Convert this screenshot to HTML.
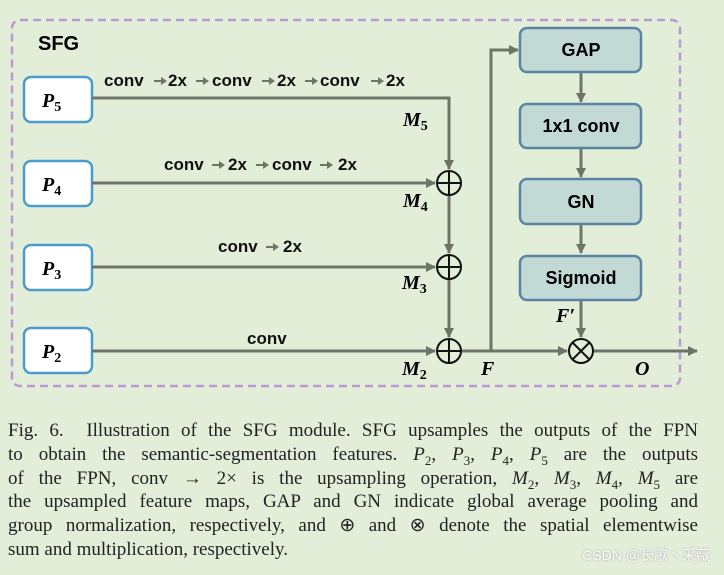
<!DOCTYPE html>
<html><head><style>
body{margin:0;width:724px;height:575px;background:#e3eed9;overflow:hidden;position:relative}
svg{position:absolute;left:0;top:0}
.cap{position:absolute;left:8px;top:419px;width:690px;font-family:"Liberation Serif",serif;font-size:19px;line-height:23.8px;color:#222}
.cap div{text-align:justify;text-align-last:justify;white-space:nowrap;overflow:visible}
.cap div.l{text-align-last:left}
sub{font-size:13px;line-height:0}
.wm{position:absolute;right:14px;top:545px;font-family:"Liberation Sans","Noto Sans CJK SC",sans-serif;font-size:14px;color:#fff;text-shadow:0 0 2px #999}
</style></head><body>
<svg width="724" height="575" font-family="Liberation Sans, sans-serif">
<defs><marker id="a" markerWidth="10" markerHeight="10" refX="9" refY="5" orient="auto" markerUnits="userSpaceOnUse"><path d="M0,0L10,5L0,10z" fill="#6e7568"/></marker></defs>
<rect x="12" y="20" width="668" height="366" rx="8" fill="none" stroke="#b99bd2" stroke-width="2.5" stroke-dasharray="8,5"/>
<text x="38" y="50" font-size="20" font-weight="bold">SFG</text>
<g fill="#fff" stroke="#4b9bcf" stroke-width="2.5">
<rect x="24" y="77" width="68" height="45" rx="7"/><rect x="24" y="161" width="68" height="45" rx="7"/>
<rect x="24" y="245" width="68" height="45" rx="7"/><rect x="24" y="328" width="68" height="45" rx="7"/></g>
<g font-family="Liberation Serif,serif" font-style="italic" font-weight="bold" font-size="20">
<text x="42" y="107">P<tspan font-size="14" dy="4" font-style="normal">5</tspan></text>
<text x="42" y="191">P<tspan font-size="14" dy="4" font-style="normal">4</tspan></text>
<text x="42" y="275">P<tspan font-size="14" dy="4" font-style="normal">3</tspan></text>
<text x="42" y="358">P<tspan font-size="14" dy="4" font-style="normal">2</tspan></text>
<text x="403" y="126">M<tspan font-size="14" dy="4" font-style="normal">5</tspan></text>
<text x="403" y="207">M<tspan font-size="14" dy="4" font-style="normal">4</tspan></text>
<text x="402" y="289">M<tspan font-size="14" dy="4" font-style="normal">3</tspan></text>
<text x="402" y="375">M<tspan font-size="14" dy="4" font-style="normal">2</tspan></text>
<text x="481" y="375">F</text><text x="635" y="375">O</text>
<text x="556" y="322">F′</text></g>
<g stroke="#6e7568" stroke-width="3" fill="none">
<path d="M92,98H449V169" marker-end="url(#a)"/>
<path d="M92,183H435" marker-end="url(#a)"/>
<path d="M92,267H435" marker-end="url(#a)"/>
<path d="M92,351H435" marker-end="url(#a)"/>
<path d="M449,195V253" marker-end="url(#a)"/>
<path d="M449,279V337" marker-end="url(#a)"/>
<path d="M461,351H567" marker-end="url(#a)"/>
<path d="M491,351V50H518" marker-end="url(#a)"/>
<path d="M593,351H697" marker-end="url(#a)"/>
<path d="M581,72V102" marker-end="url(#a)"/>
<path d="M581,148V177" marker-end="url(#a)"/>
<path d="M581,224V253" marker-end="url(#a)"/>
<path d="M581,300V337" marker-end="url(#a)"/>
</g>
<g stroke="#111" stroke-width="2" fill="none">
<circle cx="449" cy="183" r="12"/><path d="M437,183H461M449,171V195"/>
<circle cx="449" cy="267" r="12"/><path d="M437,267H461M449,255V279"/>
<circle cx="449" cy="351" r="12"/><path d="M437,351H461M449,339V363"/>
<circle cx="581" cy="351" r="12"/><path d="M573,343L589,359M589,343L573,359"/>
</g>
<g fill="#c2d9d6" stroke="#5a85a2" stroke-width="2.5">
<rect x="520" y="28" width="121" height="44" rx="7"/><rect x="520" y="104" width="121" height="44" rx="7"/>
<rect x="520" y="179" width="121" height="45" rx="7"/><rect x="520" y="256" width="121" height="44" rx="7"/></g>
<g font-size="18" font-weight="bold" text-anchor="middle">
<text x="581" y="56">GAP</text><text x="581" y="132">1x1 conv</text>
<text x="581" y="208">GN</text><text x="581" y="284">Sigmoid</text></g>
<g font-size="17" font-weight="bold" fill="#111">
<text x="104" y="86">conv</text><text x="168" y="86">2x</text><text x="212" y="86">conv</text><text x="277" y="86">2x</text><text x="320" y="86">conv</text><text x="386" y="86">2x</text>
<text x="164" y="170">conv</text><text x="228" y="170">2x</text><text x="272" y="170">conv</text><text x="338" y="170">2x</text>
<text x="218" y="252">conv</text><text x="283" y="252">2x</text>
<text x="247" y="344">conv</text></g>
<g fill="#6e7568">
<path d="M154,80h7v-3l6,4l-6,4v-3h-7z"/>
<path d="M196,80h7v-3l6,4l-6,4v-3h-7z"/>
<path d="M262,80h7v-3l6,4l-6,4v-3h-7z"/>
<path d="M305,80h7v-3l6,4l-6,4v-3h-7z"/>
<path d="M371,80h7v-3l6,4l-6,4v-3h-7z"/>
<path d="M212,164h7v-3l6,4l-6,4v-3h-7z"/>
<path d="M256,164h7v-3l6,4l-6,4v-3h-7z"/>
<path d="M320,164h7v-3l6,4l-6,4v-3h-7z"/>
<path d="M266,246h7v-3l6,4l-6,4v-3h-7z"/>
</g>
</svg>
<div class="cap">
<div>Fig. 6.&nbsp; Illustration of the SFG module. SFG upsamples the outputs of the FPN</div>
<div>to obtain the semantic-segmentation features. <i>P</i><sub>2</sub>, <i>P</i><sub>3</sub>, <i>P</i><sub>4</sub>, <i>P</i><sub>5</sub> are the outputs</div>
<div>of the FPN, conv → 2× is the upsampling operation, <i>M</i><sub>2</sub>, <i>M</i><sub>3</sub>, <i>M</i><sub>4</sub>, <i>M</i><sub>5</sub> are</div>
<div>the upsampled feature maps, GAP and GN indicate global average pooling and</div>
<div>group normalization, respectively, and ⊕ and ⊗ denote the spatial elementwise</div>
<div class="l">sum and multiplication, respectively.</div>
</div>
<div class="wm">CSDN @长歌丶采薇</div>
</body></html>
